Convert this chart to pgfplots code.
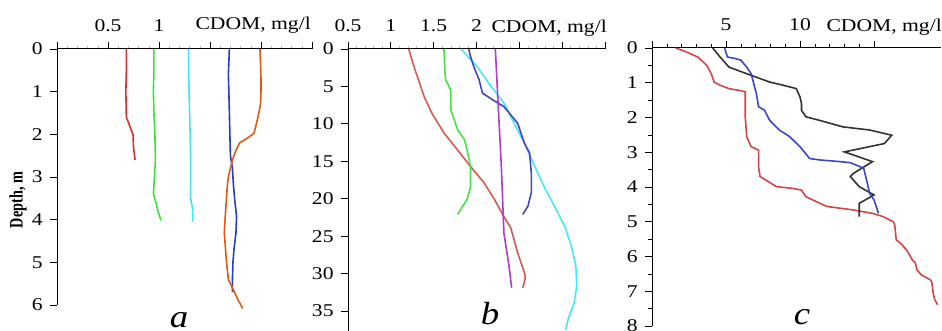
\documentclass[border=0pt]{standalone}
\usepackage{fontspec}
\setmainfont{Liberation Serif}
\usepackage{pgfplots}
\pgfplotsset{compat=1.18}
\definecolor{ared}{RGB}{225,45,45}
\definecolor{agreen}{RGB}{60,225,60}
\definecolor{acyan}{RGB}{60,232,245}
\definecolor{ablue}{RGB}{40,60,200}
\definecolor{aorange}{RGB}{225,90,20}
\definecolor{bred}{RGB}{215,90,80}
\definecolor{bgreen}{RGB}{70,225,70}
\definecolor{bcyan}{RGB}{70,232,248}
\definecolor{bblue}{RGB}{70,70,185}
\definecolor{bpurple}{RGB}{175,60,205}
\definecolor{cred}{RGB}{210,70,70}
\definecolor{cblack}{RGB}{50,50,50}
\definecolor{cblue}{RGB}{60,70,195}
\begin{document}
\fontsize{18pt}{20pt}\selectfont
\begin{tikzpicture}
\pgfplotsset{
  cdom/.style={
    scale only axis,
    y dir=reverse,
    axis x line=top,
    axis y line=left,
    axis line style={-, line width=1pt},
    tick align=outside,
    major tick length=7pt,
    minor tick length=3pt,
    tick style={black, line width=0.8pt},
    minor tick style={gray!50, line width=0.6pt},
    /pgf/number format/assume math mode=true,
    ticklabel style={font=\fontsize{18pt}{20pt}\selectfont, xscale=1.2},
    xticklabel style={yshift=4pt},
    every axis plot/.append style={line width=1.6pt, no marks},
    clip=false,
  }
}
% ---------------- panel a
\begin{axis}[cdom, at={(57pt,282pt)}, anchor=north west,
  width=255pt, height=256pt,
  xmin=0, xmax=2.5, ymin=0, ymax=6,
  xtick={0,0.5,1,1.5,2,2.5}, xticklabels={,0.5,1,,,},
  minor x tick num=4,
  ytick={0,1,2,3,4,5,6}]
\addplot[ared] coordinates {(0.68,0)(0.68,0.5)(0.675,1.0)(0.68,1.6)(0.70,1.72)(0.72,1.85)(0.745,2.0)(0.75,2.3)(0.765,2.6)};
\addplot[agreen] coordinates {(0.95,0)(0.95,0.5)(0.945,1.0)(0.95,1.5)(0.96,2.0)(0.965,2.6)(0.955,3.0)(0.945,3.4)(0.97,3.6)(0.99,3.8)(1.02,4.02)};
\addplot[acyan] coordinates {(1.29,0)(1.29,0.5)(1.295,1.0)(1.30,1.5)(1.305,2.0)(1.31,2.5)(1.31,3.0)(1.31,3.5)(1.33,3.75)(1.33,4.05)};
\addplot[ablue] coordinates {(1.69,0)(1.685,0.3)(1.68,0.6)(1.685,1.0)(1.69,1.5)(1.695,2.0)(1.70,2.5)(1.72,2.8)(1.73,3.2)(1.745,3.6)(1.76,3.9)(1.755,4.3)(1.735,4.7)(1.725,5.0)(1.72,5.4)(1.72,5.7)};
\addplot[aorange] coordinates {(1.99,0)(1.995,0.3)(2.0,0.7)(2.0,1.0)(1.995,1.3)(1.97,1.6)(1.95,1.8)(1.93,1.98)(1.86,2.1)(1.79,2.2)(1.75,2.4)(1.72,2.6)(1.68,3.0)(1.67,3.2)(1.65,3.9)(1.64,4.3)(1.66,4.95)(1.68,5.4)(1.73,5.65)(1.78,5.9)(1.82,6.08)};
\end{axis}
% ---------------- panel b
\begin{axis}[cdom, at={(348pt,282pt)}, anchor=north west,
  width=257pt, height=282pt,
  xmin=0.5, xmax=3.5, ymin=0, ymax=37.67,
  xtick={0.5,1,1.5,2,2.5,3,3.5}, xticklabels={0.5,1,1.5,2,,,},
  minor x tick num=4,
  ytick={0,5,10,15,20,25,30,35}]
\addplot[bred] coordinates {(1.21,0)(1.26,2)(1.31,3.7)(1.39,6.4)(1.48,8.6)(1.62,11.2)(1.78,13.5)(1.93,15.7)(2.09,17.9)(2.21,20.1)(2.32,22.4)(2.40,23.9)(2.48,27.2)(2.56,29.9)(2.57,30.6)(2.54,31.9)};
\addplot[bgreen] coordinates {(1.62,0)(1.63,2.8)(1.64,4.1)(1.70,5.5)(1.70,8.1)(1.78,10.8)(1.86,12.1)(1.89,13.5)(1.93,15.7)(1.93,18.4)(1.89,20.1)(1.84,21)(1.78,22.1)};
\addplot[bcyan] coordinates {(1.82,0)(2.01,2.4)(2.17,5.0)(2.32,7.2)(2.44,9.9)(2.56,12.6)(2.68,15.7)(2.79,18.4)(2.91,21)(3.03,23.7)(3.11,26.4)(3.16,29.0)(3.17,31.7)(3.14,33.9)(3.07,36.1)(3.04,37.5)};
\addplot[bblue] coordinates {(1.91,0)(1.93,1.0)(1.97,2.4)(2.03,4.1)(2.07,5.9)(2.19,6.8)(2.32,7.7)(2.40,8.8)(2.48,9.9)(2.56,12.6)(2.62,13.9)(2.64,16.6)(2.64,19.2)(2.60,21)(2.54,22.1)};
\addplot[bpurple] coordinates {(2.22,0)(2.25,6.8)(2.29,15.7)(2.32,24.6)(2.38,29)(2.41,31.9)};
\end{axis}
% ---------------- panel c
\begin{axis}[cdom, at={(652pt,283pt)}, anchor=north west,
  width=288.6pt, height=278pt,
  xmin=0, xmax=19.5, ymin=0, ymax=8,
  xtick={0,5,10,15}, xticklabels={,5,10,},
  minor x tick num=4,
  ytick={0,1,2,3,4,5,6,7,8},
  minor y tick num=1,
  minor tick style={black, line width=0.6pt}, minor tick length=4pt]
\addplot[cred] coordinates {(1.6,0)(2.3,0.11)(3.1,0.26)(3.7,0.5)(4.0,0.74)(4.2,0.98)(4.6,1.07)(5.2,1.17)(5.9,1.22)(6.3,1.26)(6.3,1.98)(6.4,2.55)(6.7,2.84)(7.2,2.94)(7.2,3.42)(7.3,3.7)(7.7,3.8)(8.4,3.99)(9.5,4.04)(10.1,4.09)(10.4,4.28)(11.1,4.42)(11.8,4.56)(13.6,4.66)(14.9,4.76)(15.6,4.85)(16.3,5.0)(16.4,5.09)(16.5,5.52)(16.8,5.62)(17.2,5.81)(17.6,6.1)(17.8,6.19)(17.9,6.38)(18.2,6.53)(18.8,6.67)(18.9,6.72)(19.0,7.05)(19.1,7.24)(19.3,7.39)};
\addplot[cblack] coordinates {(4.1,0)(4.6,0.26)(5.2,0.55)(6.4,0.74)(7.3,0.88)(7.95,0.98)(8.85,1.07)(9.75,1.17)(10.0,1.41)(10.1,1.6)(10.1,1.79)(10.4,1.98)(11.3,2.08)(12.9,2.27)(14.7,2.36)(16.2,2.51)(15.7,2.75)(13.0,2.99)(14.9,3.27)(13.6,3.61)(13.4,3.7)(14.0,3.99)(15.0,4.23)(14.0,4.47)(14.0,4.85)};
\addplot[cblue] coordinates {(4.9,0)(5.1,0.26)(5.6,0.3)(6.0,0.35)(6.4,0.55)(6.7,0.74)(7.05,1.31)(7.2,1.69)(7.6,1.79)(7.95,2.08)(8.6,2.36)(9.3,2.55)(10.0,2.84)(10.65,3.18)(11.3,3.22)(12.7,3.27)(13.4,3.3)(13.8,3.37)(14.3,3.46)(14.5,3.8)(14.7,4.18)(15.0,4.37)(15.3,4.76)};
\end{axis}
% labels
\node[anchor=base east, inner sep=0pt, xscale=1.2] at (311pt,301pt) {CDOM, mg/l};
\node[anchor=base east, inner sep=0pt, xscale=1.2] at (607pt,298pt) {CDOM, mg/l};
\node[anchor=base east, inner sep=0pt, xscale=1.2] at (942pt,299pt) {CDOM, mg/l};
\node[rotate=90, xscale=0.75, inner sep=0pt, font=\bfseries\fontsize{19pt}{21pt}\selectfont] at (18pt,131pt) {Depth, m};
\node[anchor=base, inner sep=0pt, xscale=1.15, font=\itshape\fontsize{32pt}{32pt}\selectfont] at (179pt,3pt) {a};
\node[anchor=base, inner sep=0pt, xscale=1.15, font=\itshape\fontsize{32pt}{32pt}\selectfont] at (490pt,6pt) {b};
\node[anchor=base, inner sep=0pt, xscale=1.15, font=\itshape\fontsize{32pt}{32pt}\selectfont] at (802pt,6pt) {c};
\pgfresetboundingbox
\path[use as bounding box] (0pt,0pt) rectangle (942pt,331pt);
\end{tikzpicture}
\end{document}
